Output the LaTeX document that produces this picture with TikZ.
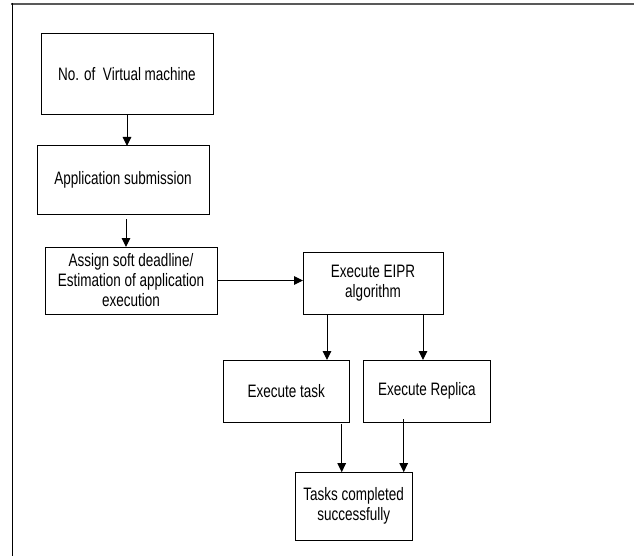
\documentclass[tikz,border=0pt]{standalone}
\usepackage{fontspec}
\setmainfont{Liberation Sans}
\newfontfamily\narrowsans[FakeStretch=0.75]{Liberation Sans}
\usetikzlibrary{arrows.meta}

\begin{document}
\begin{tikzpicture}[x=1pt,y=-1pt,
    stage/.style={draw,line width=1pt,inner sep=0pt,outer sep=0pt,align=center,
                  font=\narrowsans\fontsize{18}{20}\selectfont},
    flow/.style={line width=1pt,arrows={-{Triangle[width=8.5pt,length=9pt]}}}]
            \useasboundingbox (0,0) rectangle (634,556);
            \draw[black!65,line width=2pt] (11,4) -- (634,4);
            \draw[black,line width=1.3pt] (12.5,3) -- (12.5,556);

            \node[stage,minimum width=172pt,minimum height=81pt] (vm) at (127,74.5) {No. of\ \ Virtual machine};
            \node[stage,minimum width=172pt,minimum height=68pt] (submit) at (123,180) {Application submission};
            \node[stage,minimum width=172pt,minimum height=67pt] (deadline) at (131,280.5) {Assign soft deadline/\\Estimation of application\\execution};
            \node[stage,minimum width=140pt,minimum height=62pt] (eipr) at (373,283.3) {Execute EIPR\\algorithm};
            \node[stage,minimum width=126pt,minimum height=62pt] (task) at (286.2,391) {Execute task};
            \node[stage,minimum width=127pt,minimum height=62pt] (replica) at (426.8,391) {Execute Replica};
            \node[stage,minimum width=117pt,minimum height=68pt] (done) at (353.7,506.2) {Tasks completed\\successfully};

            \draw[flow] (vm.south) -- (vm.south |- submit.north);
            \draw[flow] ([xshift=3pt,yshift=-5pt]submit.south) -- ([xshift=3pt]submit.south |- deadline.north);
            \draw[flow] (deadline.east) -- (deadline.east -| eipr.west);
            \draw[flow] ([xshift=-46pt]eipr.south) -- ([xshift=-46pt]eipr.south |- task.north);
            \draw[flow] ([xshift=50pt]eipr.south) -- ([xshift=50pt]eipr.south |- replica.north);
            \draw[flow] ([xshift=-12pt,yshift=-2pt]done.north |- task.south) -- ([xshift=-12pt]done.north);
            \draw[flow] ([xshift=50pt,yshift=3pt]done.north |- replica.south) -- ([xshift=50pt]done.north);
        \end{tikzpicture}
\end{document}
